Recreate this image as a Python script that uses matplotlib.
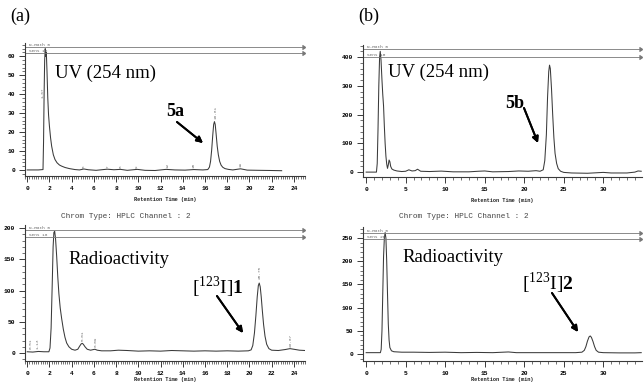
import matplotlib
matplotlib.use('Agg')
import matplotlib.pyplot as plt
from matplotlib.ticker import MultipleLocator

plt.rcParams.update({
    'font.family': 'Liberation Serif',
    'mathtext.fontset': 'custom',
    'mathtext.rm': 'Liberation Serif',
    'mathtext.bf': 'Liberation Serif:bold',
})
MONO = 'Liberation Mono'
INK = '#3a3a3a'

# (a) UV 254 nm
t_uv_a = [0.0, 1.0, 1.42, 1.47, 1.52, 1.57, 1.62, 1.67, 1.72, 1.78, 1.85, 1.92, 2.00, 2.10, 2.20,
          2.35, 2.50, 2.68, 2.90, 3.10, 3.40, 3.80, 4.30, 4.70, 5.10, 5.50, 6.20, 7.20, 7.80, 8.40,
          9.00, 9.90, 10.6, 11.5, 12.5, 13.3, 14.2, 15.0, 15.8, 16.25, 16.40, 16.50, 16.60, 16.70,
          16.78, 16.85, 16.92, 17.00, 17.10, 17.20, 17.32, 17.45, 17.60, 17.80, 18.10, 18.50,
          19.20, 19.80, 20.8, 22.0, 22.9]
uv_a = [0.0, 0.0, 0.2, 15, 40, 58, 64, 60, 62, 52, 38, 29, 23, 17, 12.5,
        8, 5.5, 3.8, 2.6, 2.0, 1.3, 0.7, 0.2, 0.0, 0.5, 0.1, -0.2, 0.4, 0.1, 0.3,
        -0.2, 0.3, -0.2, -0.3, 0.3, 0.0, -0.1, 0.2, 0.0, 0.2, 1.5, 4.5, 10.5, 18.5,
        24, 25.5, 24, 19, 12.5, 8, 4.5, 2.5, 1.4, 0.7, 0.3, 0.0,
        0.6, -0.1, -0.2, -0.3, -0.4]

# (a) radioactivity
t_rad_a = [0.0, 0.5, 1.0, 1.5, 1.95, 2.05, 2.15, 2.25, 2.33, 2.40, 2.47, 2.55, 2.65, 2.75, 2.85,
           2.97, 3.10, 3.25, 3.40, 3.55, 3.75, 4.00, 4.30, 4.55, 4.72, 4.85, 4.95, 5.05, 5.20,
           5.40, 5.70, 5.95, 6.10, 6.30, 6.70, 7.5, 8.2, 9.0, 10.0, 11.0, 12.0, 13.0, 14.0, 15.0,
           16.0, 17.0, 18.0, 19.0, 19.9, 20.15, 20.30, 20.45, 20.58, 20.70, 20.80, 20.88, 20.97,
           21.06, 21.16, 21.27, 21.40, 21.55, 21.75, 22.0, 22.6, 23.2, 23.65, 24.0, 24.5, 25.0]
rad_a = [2, 1.5, 2.5, 2, 2, 8, 40, 110, 170, 193, 195, 183, 155, 122, 95,
         72, 55, 38, 25, 16, 10, 6, 4.5, 6, 11, 14.5, 15.5, 14, 10,
         6, 4.5, 5.5, 6, 4.5, 3.5, 3.5, 4.5, 4, 3, 3.5, 3, 4, 3.5, 3,
         3.5, 3, 3.5, 3, 3.5, 5, 12, 32, 60, 90, 108, 112, 106,
         90, 68, 46, 27, 14, 7, 4.5, 4, 5.5, 7, 6, 4.5, 4]

# (b) UV 254 nm
t_uv_b = [0.0, 1.30, 1.40, 1.50, 1.60, 1.70, 1.78, 1.88, 2.00, 2.10, 2.20, 2.30, 2.40, 2.50, 2.60,
          2.70, 2.80, 2.90, 3.00, 3.10, 3.25, 3.50, 3.90, 4.50, 5.00, 5.40, 5.80, 6.20, 6.50, 6.90,
          8.0, 9.5, 11.0, 13.0, 14.2, 15.0, 16.0, 18.0, 19.3, 20.5, 21.5, 22.0, 22.4, 22.6, 22.8,
          22.95, 23.1, 23.2, 23.3, 23.45, 23.6, 23.75, 23.9, 24.1, 24.3, 24.6, 25.0, 26.0, 28.0,
          30.0, 31.0, 33.0, 34.0, 34.4, 34.8]
uv_b = [0, 0, 30, 150, 300, 400, 420, 390, 320, 270, 230, 160, 100, 55, 28,
        13, 25, 42, 36, 20, 11, 7, 4, 2, 3, 8, 4, 5, 10, 3,
        2, 3.5, 1, 1, 3, 4, 1, 2, 4, 3, 5, 3, 8, 40, 130,
        260, 350, 372, 360, 290, 200, 120, 65, 30, 12, 3, -1, -3, -4,
        -1, -3, -3, 0, 4, 3]

# (b) radioactivity
t_rad_b = [0.0, 1.0, 1.8, 1.9, 2.0, 2.1, 2.2, 2.3, 2.4, 2.5, 2.6, 2.7, 2.8, 2.9, 3.0, 3.2, 3.5,
           4.5, 6.0, 8.0, 10.0, 12.0, 14.0, 16.0, 18.0, 19.0, 21.0, 23.0, 25.0, 26.5, 27.3, 27.6,
           27.8, 28.0, 28.2, 28.35, 28.5, 28.7, 28.9, 29.1, 29.4, 30.0, 32.0, 34.0, 34.8]
rad_b = [3, 3, 3, 10, 50, 130, 210, 250, 262, 250, 200, 130, 65, 30, 14, 7, 5,
         4, 4, 3.5, 4, 3, 3.5, 3, 4.5, 3, 3, 3, 3, 3, 4, 8,
         16, 28, 37, 39, 36, 27, 16, 8, 4, 3, 2.5, 2.5, 3]

W, H = 644, 385


def fp(x, y):
    return (x / W, 1 - y / H)


def make_ax(x0, x1, ytop, ybot):
    return fig.add_axes([x0 / W, 1 - ybot / H, (x1 - x0) / W, (ybot - ytop) / H])


fig = plt.figure(figsize=(W / 100, H / 100), dpi=100)

panels = [
    dict(box=(25, 305, 43, 176), t=t_uv_a, y=uv_a, xlim=(-0.2, 25.0), ylim=(-3.2, 67),
         ymaj=10, ymin=2, xmaj=2, xmin=0.2, lines=(64.8, 61.6), tags=('N-Math 0', 'Sens 16'),
         xlab_y=200),
    dict(box=(25, 305, 225, 361), t=t_rad_a, y=rad_a, xlim=(-0.2, 25.0), ylim=(-12.8, 205),
         ymaj=50, ymin=10, xmaj=2, xmin=0.2, lines=(197, 186), tags=('N-Math 0', 'Sens 16'),
         xlab_y=380),
    dict(box=(363, 642, 45, 177), t=t_uv_b, y=uv_b, xlim=(-0.4, 34.9), ylim=(-17, 442),
         ymaj=100, ymin=20, xmaj=5, xmin=1, lines=(428, 400), tags=('N-Math 0', 'Sens 10'),
         xlab_y=201),
    dict(box=(363, 642, 227, 361), t=t_rad_b, y=rad_b, xlim=(-0.4, 34.9), ylim=(-15, 274),
         ymaj=50, ymin=10, xmaj=5, xmin=1, lines=(261, 248), tags=('N-Math 0', 'Sens 20'),
         xlab_y=380),
]

axes = []
for p in panels:
    ax = make_ax(*p['box'])
    ax.plot(p['t'], p['y'], color=INK, lw=0.75)
    ax.set_xlim(*p['xlim'])
    ax.set_ylim(*p['ylim'])
    for s in ('top', 'right'):
        ax.spines[s].set_visible(False)
    for s in ('left', 'bottom'):
        ax.spines[s].set_color(INK)
        ax.spines[s].set_linewidth(0.8)
    ax.xaxis.set_major_locator(MultipleLocator(p['xmaj']))
    ax.xaxis.set_minor_locator(MultipleLocator(p['xmin']))
    ax.yaxis.set_major_locator(MultipleLocator(p['ymaj']))
    ax.yaxis.set_minor_locator(MultipleLocator(p['ymin']))
    ax.tick_params(which='major', length=4, width=0.7, color=INK, labelsize=4.5, pad=3)
    ax.tick_params(which='minor', length=2, width=0.5, color=INK)
    for lab in ax.get_xticklabels() + ax.get_yticklabels():
        lab.set_family(MONO)
        lab.set_fontweight('bold')
    ax.patch.set_alpha(0)
    # x label placed at the reference's height
    bx0, bx1 = p['box'][0], p['box'][1]
    fig.text(*fp((bx0 + bx1) / 2, p['xlab_y']), 'Retention Time (min)', family=MONO,
             fontweight='bold', fontsize=3.8, ha='center', va='center', color='#222222')
    # marker lines across the top of each trace
    x0, x_end = p['xlim']
    for yl, tag in zip(p['lines'], p['tags']):
        ax.plot([x0, x_end], [yl, yl], color='#777777', lw=0.6)
        ax.plot([x_end], [yl], marker=5, color='#777777', ms=2.5, clip_on=False)
        ax.text(x0 + 0.015 * (x_end - x0), yl, tag, family=MONO,
                fontsize=3.2, color='#666666', va='bottom', ha='left')
    axes.append(ax)

ax_a1, ax_a2, ax_b1, ax_b2 = axes

# small peak time tags on panel (a)
tag_kw = dict(family=MONO, fontsize=3.2, color='#777777', rotation=90, ha='center', va='bottom')
ax_a1.text(1.35, 38, '1.67', **tag_kw)
ax_a1.text(16.95, 27, '16.81', **tag_kw)
for tx, ty, tt in [(5.1, 1.2, '5'), (7.2, 1.2, '7'), (8.4, 1.2, '8'), (9.9, 1.2, '9'),
                   (12.6, 1.2, '12'), (15.0, 1.2, '15'), (19.2, 1.4, '19')]:
    ax_a1.text(tx, ty, tt, **tag_kw)
ax_a2.text(20.9, 118, '20.75', **tag_kw)
ax_a2.text(5.0, 20, '5.01', **tag_kw)
ax_a2.text(6.2, 10, '6.09', **tag_kw)
ax_a2.text(23.7, 10, '23.67', **tag_kw)
ax_a2.text(0.3, 6, '0.51', **tag_kw)
ax_a2.text(0.95, 6, '1.13', **tag_kw)

# channel headers
for cx in (126, 464):
    fig.text(*fp(cx, 216), 'Chrom Type: HPLC Channel : 2', family=MONO, fontsize=5.6,
             color='#444444', ha='center', va='center')

# panel letters and labels
fig.text(*fp(10, 16), '(a)', fontsize=13, ha='left', va='center')
fig.text(*fp(358, 16), '(b)', fontsize=13, ha='left', va='center')
fig.text(*fp(55, 73), 'UV (254 nm)', fontsize=13.5, ha='left', va='center')
fig.text(*fp(388, 72), 'UV (254 nm)', fontsize=13.5, ha='left', va='center')
fig.text(*fp(68, 259), 'Radioactivity', fontsize=13.5, ha='left', va='center')
fig.text(*fp(402, 258), 'Radioactivity', fontsize=13.5, ha='left', va='center')
fig.text(*fp(166, 112), '5a', fontsize=13, fontweight='bold', ha='left', va='center')
fig.text(*fp(505, 103), '5b', fontsize=13, fontweight='bold', ha='left', va='center')
fig.text(*fp(192, 287), r'[$^{123}$I]$\mathbf{1}$', fontsize=14, ha='left', va='center')
fig.text(*fp(522, 283), r'[$^{123}$I]$\mathbf{2}$', fontsize=14, ha='left', va='center')

arrow = dict(arrowstyle='-|>', lw=1.4, color='black', mutation_scale=9, shrinkA=0, shrinkB=0)
for (x0, y0), (x1, y1) in [((177, 122), (203, 143)), ((524, 108), (538, 143)),
                           ((217, 296), (243, 333)), ((552, 293), (578, 332))]:
    fig.add_artist(plt.annotate('', xy=fp(x1, y1), xytext=fp(x0, y0),
                                xycoords='figure fraction', textcoords='figure fraction',
                                arrowprops=arrow))

fig.savefig('out.png', dpi=100)
